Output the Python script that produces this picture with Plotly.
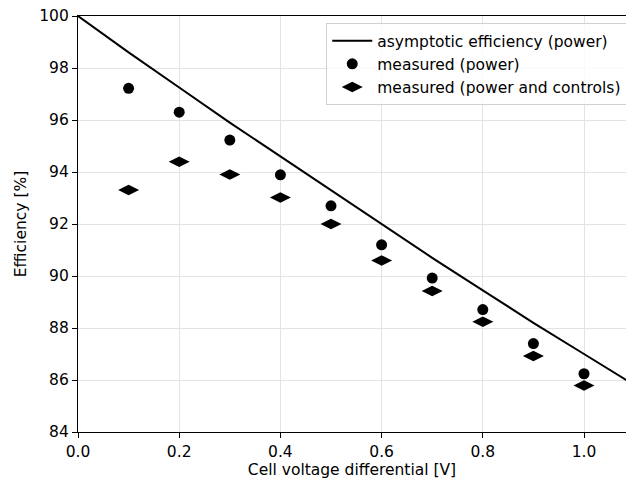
import plotly.graph_objects as go

# Data
line_x = [0.0, 0.1, 0.2, 0.3, 0.4, 0.5, 0.6, 0.7, 0.8, 0.9, 1.0, 1.1]
line_y = [100.0, 98.6, 97.25, 95.9, 94.6, 93.3, 92.0, 90.7, 89.45, 88.2, 87.0, 85.8]

meas_x = [0.1, 0.2, 0.3, 0.4, 0.5, 0.6, 0.7, 0.8, 0.9, 1.0]
meas_power = [97.22, 96.3, 95.23, 93.89, 92.7, 91.2, 89.92, 88.71, 87.4, 86.24]
meas_power_controls = [93.31, 94.39, 93.9, 93.02, 92.0, 90.6, 89.42, 88.24, 86.92, 85.79]

x_ticks = [0.0, 0.2, 0.4, 0.6, 0.8, 1.0]
y_ticks = [84, 86, 88, 90, 92, 94, 96, 98, 100]

fig = go.Figure()
fig.add_trace(go.Scatter(x=line_x, y=line_y, mode="lines",
                         line=dict(color="black", width=2),
                         name="asymptotic efficiency (power)"))
fig.add_trace(go.Scatter(x=meas_x, y=meas_power, mode="markers",
                         marker=dict(symbol="circle", color="black", size=11),
                         name="measured (power)"))
fig.add_trace(go.Scatter(x=meas_x, y=meas_power_controls, mode="markers",
                         marker=dict(symbol="diamond-wide", color="black", size=15),
                         name="measured (power and controls)"))

axis_font = dict(family="DejaVu Sans", size=15.5, color="black")
fig.update_layout(
    width=626, height=481,
    margin=dict(l=78, r=0, t=16, b=49, autoexpand=False),
    plot_bgcolor="white", paper_bgcolor="white",
    font=axis_font,
    showlegend=True,
    legend=dict(x=0.453, y=0.983, xanchor="left", yanchor="top",
                bgcolor="rgba(255,255,255,0.8)", bordercolor="#d0d0d0", borderwidth=1,
                font=dict(family="DejaVu Sans", size=15.5, color="black"),
                itemwidth=40, tracegroupgap=0),
    xaxis=dict(range=[0, 1.083], tickvals=x_ticks,
               ticktext=[f"{v:.1f}" for v in x_ticks],
               showgrid=True, gridcolor="#e3e3e3", gridwidth=1,
               showline=True, linecolor="black", linewidth=1.3, mirror=True,
               ticks="outside", ticklen=5, tickcolor="black",
               zeroline=False, automargin=False,
               title=dict(text="Cell voltage differential [V]", font=axis_font, standoff=3)),
    yaxis=dict(range=[84, 100], tickvals=y_ticks,
               showgrid=True, gridcolor="#e3e3e3", gridwidth=1,
               showline=True, linecolor="black", linewidth=1.3, mirror=False,
               ticks="outside", ticklen=5, tickcolor="black",
               zeroline=False, automargin=False,
               title=dict(text="Efficiency [%]", font=axis_font, standoff=8)),
)

fig.write_html("out.html")
